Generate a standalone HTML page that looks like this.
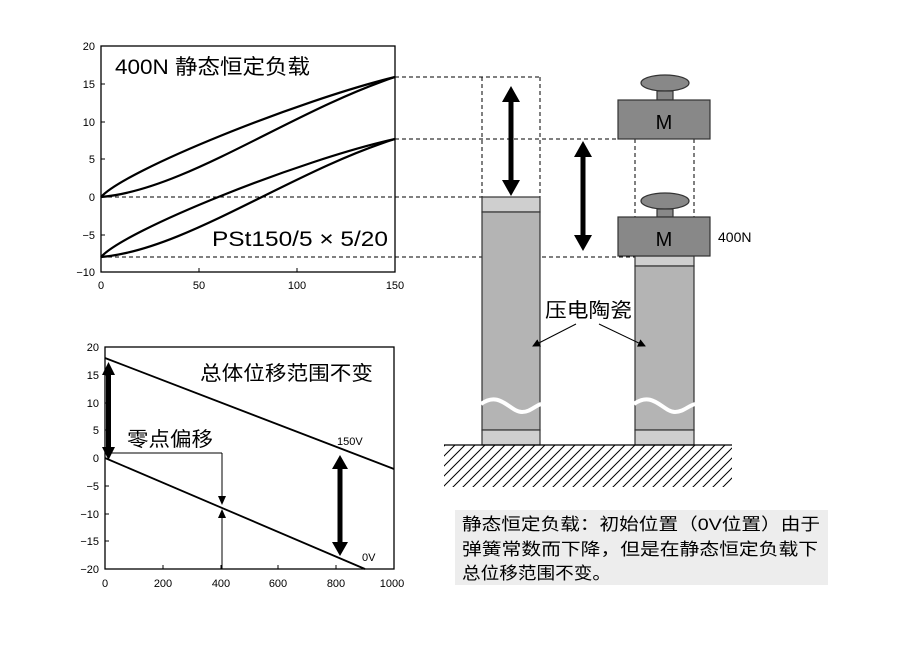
<!DOCTYPE html>
<html><head><meta charset="utf-8"><style>
body{margin:0;background:#fff;}
svg{display:block;font-family:"Liberation Sans","Noto Sans CJK SC",sans-serif;}
</style></head><body>
<svg width="900" height="656" viewBox="0 0 900 656">
<defs>
<marker id="ah" markerWidth="8" markerHeight="8" refX="7" refY="4" orient="auto" markerUnits="userSpaceOnUse"><path d="M0,0 L8,4 L0,8z" fill="#000"/></marker>
<pattern id="hatch" width="10" height="10" patternUnits="userSpaceOnUse"><path d="M-2,12 L12,-2 M-2,2 L2,-2 M8,12 L12,8" stroke="#000" stroke-width="1"/></pattern>
</defs>
<!-- Top plot -->
<rect x="101" y="46" width="294" height="226" fill="none" stroke="#000" stroke-width="1.3"/>
<g font-size="11" text-anchor="end">
<text x="95" y="50">20</text><text x="95" y="88">15</text><text x="95" y="126">10</text><text x="95" y="163">5</text><text x="95" y="201">0</text><text x="95" y="239">−5</text><text x="95" y="276">−10</text>
</g>
<g stroke="#000"><line x1="101" y1="84" x2="105" y2="84"/><line x1="101" y1="122" x2="105" y2="122"/><line x1="101" y1="159" x2="105" y2="159"/><line x1="101" y1="235" x2="105" y2="235"/><line x1="199" y1="272" x2="199" y2="268"/><line x1="297" y1="272" x2="297" y2="268"/></g>
<g font-size="11" text-anchor="middle"><text x="101" y="289">0</text><text x="199" y="289">50</text><text x="297" y="289">100</text><text x="395" y="289">150</text></g>
<text x="115" y="74" font-size="21" textLength="195" lengthAdjust="spacingAndGlyphs">400N 静态恒定负载</text>
<text x="212" y="246" font-size="21" textLength="176" lengthAdjust="spacingAndGlyphs">PSt150/5 × 5/20</text>
<g fill="none" stroke="#000" stroke-width="2.2">
<path d="M101,197 C125,170 300,100 395,77"/><path d="M101,197 C185,190 290,112 395,77"/>
<path d="M101,257 C125,230 300,160 395,139"/><path d="M101,257 C185,250 290,172 395,139"/>
</g>
<g fill="none" stroke="#000" stroke-width="1" stroke-dasharray="4,3">
<line x1="101" y1="197" x2="482" y2="197"/><line x1="101" y1="257" x2="635" y2="257"/>
<line x1="395" y1="77" x2="540" y2="77"/><line x1="395" y1="139" x2="635" y2="139"/>
<line x1="482" y1="77" x2="482" y2="197"/><line x1="540" y1="77" x2="540" y2="197"/>
<line x1="635" y1="139" x2="635" y2="217"/><line x1="694" y1="139" x2="694" y2="217"/>
</g>
<!-- Columns -->
<g stroke="#333" stroke-width="1.2">
<rect x="482" y="197" width="58" height="15" fill="#cfcfcf"/>
<rect x="482" y="212" width="58" height="218" fill="#b4b4b4"/>
<rect x="482" y="430" width="58" height="15" fill="#cfcfcf"/>
<rect x="635" y="256" width="59" height="10" fill="#cfcfcf"/>
<rect x="635" y="266" width="59" height="164" fill="#b4b4b4"/>
<rect x="635" y="430" width="59" height="15" fill="#cfcfcf"/>
</g>
<path d="M481,404 C500,390 510,412 522,412 C530,412 535,406 541,404" fill="none" stroke="#fff" stroke-width="4"/>
<path d="M634,404 C653,390 663,412 675,412 C683,412 688,406 695,404" fill="none" stroke="#fff" stroke-width="4"/>
<!-- Masses -->
<g stroke="#333" stroke-width="1.2" fill="#888">
<ellipse cx="665" cy="83" rx="24" ry="8"/><rect x="657" y="91" width="16" height="9"/><rect x="618" y="100" width="92" height="39"/>
<ellipse cx="665" cy="201" rx="24" ry="8"/><rect x="657" y="209" width="16" height="8"/><rect x="618" y="217" width="92" height="39"/>
</g>
<text x="664" y="129" font-size="20" text-anchor="middle">M</text>
<text x="664" y="246" font-size="20" text-anchor="middle">M</text>
<text x="718" y="242" font-size="14">400N</text>
<!-- Thick arrows -->
<g fill="#000">
<rect x="508.5" y="100" width="5" height="82"/><path d="M502,102 L511,86 L520,102z M502,180 L511,196 L520,180z"/>
<rect x="580.5" y="155" width="5" height="82"/><path d="M574,157 L583,141 L592,157z M574,235 L583,251 L592,235z"/>
</g>
<text x="545" y="317" font-size="20" textLength="87" lengthAdjust="spacingAndGlyphs">压电陶瓷</text>
<line x1="576" y1="324" x2="533" y2="346" stroke="#000" marker-end="url(#ah)"/>
<line x1="599" y1="324" x2="645" y2="346" stroke="#000" marker-end="url(#ah)"/>
<!-- Ground -->
<rect x="444" y="445" width="288" height="42" fill="url(#hatch)"/>
<line x1="444" y1="445" x2="732" y2="445" stroke="#000" stroke-width="1.2"/>
<!-- Bottom plot -->
<rect x="105" y="347" width="289" height="222" fill="none" stroke="#000" stroke-width="1.3"/>
<g font-size="11" text-anchor="end">
<text x="99" y="351">20</text><text x="99" y="379">15</text><text x="99" y="407">10</text><text x="99" y="434">5</text><text x="99" y="462">0</text><text x="99" y="490">−5</text><text x="99" y="518">−10</text><text x="99" y="545">−15</text><text x="99" y="573">−20</text>
</g>
<g stroke="#000"><line x1="105" y1="375" x2="109" y2="375"/><line x1="105" y1="403" x2="109" y2="403"/><line x1="105" y1="430" x2="109" y2="430"/><line x1="105" y1="486" x2="109" y2="486"/><line x1="105" y1="514" x2="109" y2="514"/><line x1="105" y1="541" x2="109" y2="541"/>
<line x1="163" y1="569" x2="163" y2="565"/><line x1="221" y1="569" x2="221" y2="565"/><line x1="278" y1="569" x2="278" y2="565"/><line x1="336" y1="569" x2="336" y2="565"/></g>
<g font-size="11" text-anchor="middle"><text x="105" y="587">0</text><text x="163" y="587">200</text><text x="221" y="587">400</text><text x="278" y="587">600</text><text x="336" y="587">800</text><text x="392" y="587">1000</text></g>
<text x="200" y="380" font-size="20" textLength="173" lengthAdjust="spacingAndGlyphs">总体位移范围不变</text>
<text x="127" y="446" font-size="20" textLength="86" lengthAdjust="spacingAndGlyphs">零点偏移</text>
<text x="337" y="445" font-size="11">150V</text>
<text x="362" y="561" font-size="11">0V</text>
<g stroke="#000" stroke-width="1.8" fill="none"><line x1="105" y1="358" x2="394" y2="469"/><line x1="105" y1="458" x2="365" y2="569"/></g>
<g stroke="#000" stroke-width="1"><line x1="107" y1="453" x2="222" y2="453"/><line x1="222" y1="453" x2="222" y2="500"/><line x1="222" y1="569" x2="222" y2="515"/></g>
<g fill="#000">
<path d="M218,496 L222,505 L226,496z"/><path d="M218,518 L222,509 L226,518z"/>
<rect x="106" y="372" width="5" height="78"/><path d="M102,375 L108.5,362 L115,375z M102,447 L108.5,460 L115,447z"/>
<rect x="337.5" y="468" width="5" height="76"/><path d="M332,469 L340,455 L348,469z M332,542 L340,556 L348,542z"/>
</g>
<!-- Note -->
<rect x="455" y="510" width="373" height="75" fill="#ededed"/>
<g font-size="17"><text x="462" y="530" textLength="358" lengthAdjust="spacingAndGlyphs">静态恒定负载：初始位置（0V位置）由于</text><text x="462" y="555" textLength="356" lengthAdjust="spacingAndGlyphs">弹簧常数而下降，但是在静态恒定负载下</text><text x="462" y="579" textLength="149" lengthAdjust="spacingAndGlyphs">总位移范围不变。</text></g>
</svg>
</body></html>
